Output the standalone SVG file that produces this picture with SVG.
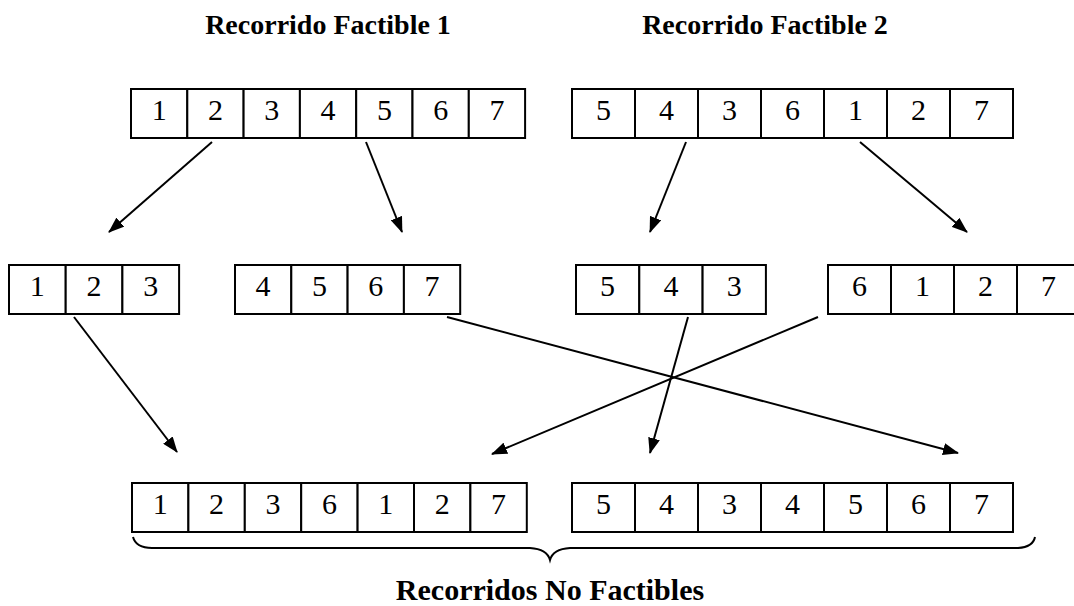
<svg xmlns="http://www.w3.org/2000/svg" width="1074" height="606" viewBox="0 0 1074 606">
<style>
.c{fill:#fff;stroke:#000;stroke-width:2}
.d{font-family:"Liberation Serif","Times New Roman",serif;font-size:30px;text-anchor:middle;fill:#000}
.t{font-family:"Liberation Serif","Times New Roman",serif;font-size:28px;font-weight:bold;text-anchor:middle;fill:#000}
.a{stroke:#000;stroke-width:2;fill:none;marker-end:url(#ah)}
</style>
<defs>
<marker id="ah" markerWidth="16" markerHeight="12" refX="15" refY="6" orient="auto" markerUnits="userSpaceOnUse">
<path d="M0,0 L16,6 L0,12 Z" fill="#000"/>
</marker>
</defs>
<rect width="1074" height="606" fill="#fff"/>
<text class="t" x="328" y="34">Recorrido Factible 1</text>
<text class="t" x="765" y="34">Recorrido Factible 2</text>

<g id="p1">
<rect class="c" x="131" y="89" width="56.3" height="49"/><rect class="c" x="187.3" y="89" width="56.3" height="49"/><rect class="c" x="243.6" y="89" width="56.3" height="49"/><rect class="c" x="299.9" y="89" width="56.3" height="49"/><rect class="c" x="356.2" y="89" width="56.3" height="49"/><rect class="c" x="412.5" y="89" width="56.3" height="49"/><rect class="c" x="468.8" y="89" width="56.3" height="49"/>
<text class="d" y="120"><tspan x="159.2">1</tspan><tspan x="215.5">2</tspan><tspan x="271.8">3</tspan><tspan x="328.1">4</tspan><tspan x="384.4">5</tspan><tspan x="440.7">6</tspan><tspan x="497">7</tspan></text>
</g>
<g id="p2">
<rect class="c" x="572" y="89" width="63" height="49"/><rect class="c" x="635" y="89" width="63" height="49"/><rect class="c" x="698" y="89" width="63" height="49"/><rect class="c" x="761" y="89" width="63" height="49"/><rect class="c" x="824" y="89" width="63" height="49"/><rect class="c" x="887" y="89" width="63" height="49"/><rect class="c" x="950" y="89" width="63" height="49"/>
<text class="d" y="120"><tspan x="603.5">5</tspan><tspan x="666.5">4</tspan><tspan x="729.5">3</tspan><tspan x="792.5">6</tspan><tspan x="855.5">1</tspan><tspan x="918.5">2</tspan><tspan x="981.5">7</tspan></text>
</g>
<g id="s1">
<rect class="c" x="9" y="265" width="56.7" height="49"/><rect class="c" x="65.7" y="265" width="56.7" height="49"/><rect class="c" x="122.4" y="265" width="56.7" height="49"/>
<text class="d" y="296"><tspan x="37.3">1</tspan><tspan x="94">2</tspan><tspan x="150.7">3</tspan></text>
</g>
<g id="s2">
<rect class="c" x="235" y="265" width="56.3" height="49"/><rect class="c" x="291.3" y="265" width="56.3" height="49"/><rect class="c" x="347.6" y="265" width="56.3" height="49"/><rect class="c" x="403.9" y="265" width="56.3" height="49"/>
<text class="d" y="296"><tspan x="263.1">4</tspan><tspan x="319.4">5</tspan><tspan x="375.7">6</tspan><tspan x="432">7</tspan></text>
</g>
<g id="s3">
<rect class="c" x="576" y="265" width="63.3" height="49"/><rect class="c" x="639.3" y="265" width="63.3" height="49"/><rect class="c" x="702.6" y="265" width="63.3" height="49"/>
<text class="d" y="296"><tspan x="607.6">5</tspan><tspan x="671">4</tspan><tspan x="734.3">3</tspan></text>
</g>
<g id="s4">
<rect class="c" x="828" y="265" width="63" height="49"/><rect class="c" x="891" y="265" width="63" height="49"/><rect class="c" x="954" y="265" width="63" height="49"/><rect class="c" x="1017" y="265" width="63" height="49"/>
<text class="d" y="296"><tspan x="859.5">6</tspan><tspan x="922.5">1</tspan><tspan x="985.5">2</tspan><tspan x="1048.5">7</tspan></text>
</g>
<g id="h1">
<rect class="c" x="132" y="483" width="56.4" height="49"/><rect class="c" x="188.4" y="483" width="56.4" height="49"/><rect class="c" x="244.8" y="483" width="56.4" height="49"/><rect class="c" x="301.2" y="483" width="56.4" height="49"/><rect class="c" x="357.6" y="483" width="56.4" height="49"/><rect class="c" x="414" y="483" width="56.4" height="49"/><rect class="c" x="470.4" y="483" width="56.4" height="49"/>
<text class="d" y="514"><tspan x="160.2">1</tspan><tspan x="216.6">2</tspan><tspan x="273">3</tspan><tspan x="329.4">6</tspan><tspan x="385.8">1</tspan><tspan x="442.2">2</tspan><tspan x="498.6">7</tspan></text>
</g>
<g id="h2">
<rect class="c" x="572" y="483" width="63" height="49"/><rect class="c" x="635" y="483" width="63" height="49"/><rect class="c" x="698" y="483" width="63" height="49"/><rect class="c" x="761" y="483" width="63" height="49"/><rect class="c" x="824" y="483" width="63" height="49"/><rect class="c" x="887" y="483" width="63" height="49"/><rect class="c" x="950" y="483" width="63" height="49"/>
<text class="d" y="514"><tspan x="603.5">5</tspan><tspan x="666.5">4</tspan><tspan x="729.5">3</tspan><tspan x="792.5">4</tspan><tspan x="855.5">5</tspan><tspan x="918.5">6</tspan><tspan x="981.5">7</tspan></text>
</g>
<g id="connectors">
<line class="a" x1="212" y1="142" x2="109" y2="232"/>
<line class="a" x1="366" y1="142" x2="402" y2="232"/>
<line class="a" x1="686" y1="142" x2="650" y2="232"/>
<line class="a" x1="860" y1="142" x2="967" y2="232"/>
<line class="a" x1="74" y1="317" x2="177" y2="452"/>
<line class="a" x1="447" y1="317" x2="958" y2="453"/>
<line class="a" x1="818" y1="317" x2="492" y2="454"/>
<line class="a" x1="688" y1="317" x2="650" y2="453"/>
</g>
<g id="brace">
<path d="M133,537 Q136,548 152,548 L530,548 Q547,549 550,560 Q553,549 570,548 L1018,548 Q1033,547 1035,537" fill="none" stroke="#000" stroke-width="2"/>
</g>
<text class="t" x="550" y="600" style="font-size:30px">Recorridos No Factibles</text>
</svg>
